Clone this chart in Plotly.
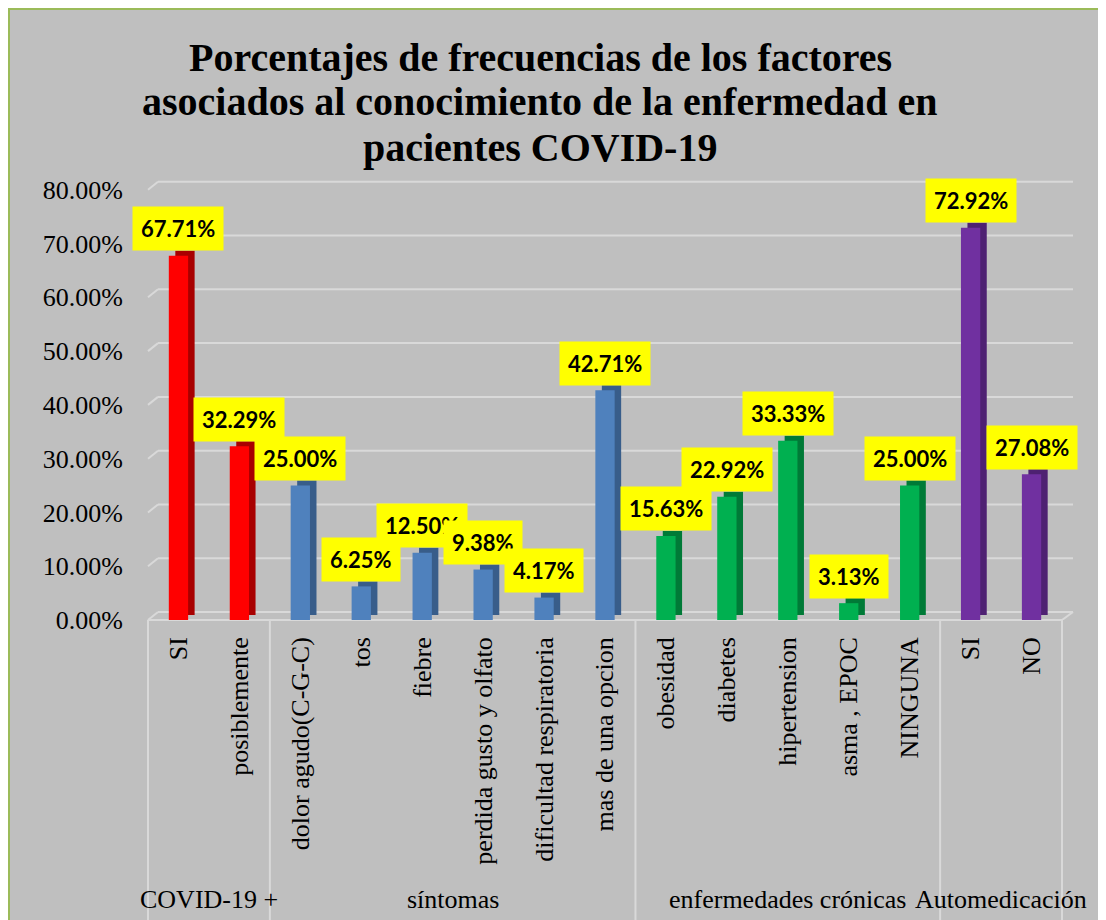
import plotly.graph_objects as go

# ---------------- data ----------------
groups = ["COVID-19 +", "COVID-19 +",
          "síntomas", "síntomas", "síntomas", "síntomas", "síntomas", "síntomas",
          "enfermedades crónicas", "enfermedades crónicas", "enfermedades crónicas",
          "enfermedades crónicas", "enfermedades crónicas",
          "Automedicación", "Automedicación"]
items = ["SI", "posiblemente",
         "dolor agudo(C-G-C)", "tos", "fiebre", "perdida gusto y olfato",
         "dificultad respiratoria", "mas de una opcion",
         "obesidad", "diabetes", "hipertension", "asma , EPOC", "NINGUNA",
         "SI", "NO"]
values = [67.71, 32.29, 25.00, 6.25, 12.50, 9.38, 4.17, 42.71,
          15.63, 22.92, 33.33, 3.13, 25.00, 72.92, 27.08]
labels = ["67.71%", "32.29%", "25.00%", "6.25%", "12.50%", "9.38%", "4.17%", "42.71%",
          "15.63%", "22.92%", "33.33%", "3.13%", "25.00%", "72.92%", "27.08%"]
y_ticks = [0, 10, 20, 30, 40, 50, 60, 70, 80]
y_ticktext = ["0.00%", "10.00%", "20.00%", "30.00%", "40.00%",
              "50.00%", "60.00%", "70.00%", "80.00%"]
title_lines = ["Porcentajes de frecuencias de los factores",
               "asociados al conocimiento de la enfermedad en",
               "pacientes COVID-19"]

front_colors = {"COVID-19 +": "#FF0000", "síntomas": "#4F81BD",
                "enfermedades crónicas": "#00B050", "Automedicación": "#7030A0"}
side_colors = {"COVID-19 +": "#A80000", "síntomas": "#385D8A",
               "enfermedades crónicas": "#007A37", "Automedicación": "#4E2172"}

# ---------------- layout geometry (page has an 8px body margin) ----------------
OFF = 8
W, H = 1106 - OFF, 920 - OFF
L = 148 - OFF            # plot left edge (page px 148)
R = 1106 - 1062          # plot right edge at page px 1062
T = 179 - OFF            # plot top at page px 179
B = 920 - 620            # floor at page px 620
PW = W - L - R
PH = H - T - B
YMAX = 82.0
n = len(items)
idx = list(range(n))


def xp(px):
    """page pixel x -> paper x"""
    return (px - OFF - L) / PW


def yp(py):
    """page pixel y -> paper y"""
    return (H - B - (py - OFF)) / PH


unit_px = PW / n
bar_w = 19.3 / unit_px
depth_dx = 6.5 / unit_px
depth_dy = 5 * YMAX / PH

fig = go.Figure()

# 3D side / top (dark) part
fig.add_trace(go.Bar(
    x=idx, y=values, base=depth_dy, width=bar_w, offset=-bar_w / 2 + depth_dx,
    marker=dict(color=[side_colors[g] for g in groups], line=dict(width=0)),
    hoverinfo="skip", showlegend=False))
# front face
fig.add_trace(go.Bar(
    x=idx, y=values, width=bar_w, offset=-bar_w / 2,
    marker=dict(color=[front_colors[g] for g in groups], line=dict(width=0)),
    hoverinfo="skip", showlegend=False))

shapes = []
# chart area background with green border
shapes.append(dict(type="rect", xref="paper", yref="paper", layer="below",
                   x0=xp(9), x1=xp(1104), y0=yp(960), y1=yp(9),
                   fillcolor="#BFBFBF", line=dict(color="#9BBB59", width=2)))
grid_col = "#D9D9D9"
# back-wall gridlines + side-wall diagonals
for t in y_ticks:
    shapes.append(dict(type="line", xref="paper", yref="y", layer="below",
                       ysizemode="pixel", yanchor=t, y0=8, y1=8,
                       x0=xp(158), x1=xp(1073),
                       line=dict(color=grid_col, width=2)))
    shapes.append(dict(type="line", xref="paper", yref="y", layer="below",
                       xsizemode="pixel", xanchor=0, x0=0, x1=10,
                       ysizemode="pixel", yanchor=t, y0=0, y1=8,
                       line=dict(color=grid_col, width=2)))
# floor front edge and right diagonal
shapes.append(dict(type="line", xref="paper", yref="paper", layer="below",
                   x0=0, x1=1, y0=0, y1=0, line=dict(color=grid_col, width=2)))
shapes.append(dict(type="line", xref="paper", yref="y", layer="below",
                   xsizemode="pixel", xanchor=1, x0=0, x1=11,
                   ysizemode="pixel", yanchor=0, y0=0, y1=8,
                   line=dict(color=grid_col, width=2)))
# group dividers
bounds = [0]
for i in range(1, n):
    if groups[i] != groups[i - 1]:
        bounds.append(i)
bounds.append(n)
for b in bounds:
    shapes.append(dict(type="line", xref="paper", yref="paper", layer="below",
                       x0=b / n, x1=b / n, y0=0, y1=yp(940),
                       line=dict(color=grid_col, width=2)))

annotations = []
# title
for k, line in enumerate(title_lines):
    annotations.append(dict(text=line, xref="paper", yref="paper",
                            x=xp(540), y=yp(57 + 45 * k), xanchor="center", yanchor="middle",
                            showarrow=False,
                            font=dict(family="Liberation Serif", size=40, color="black", weight="bold")))
# group labels
for s, e in zip(bounds[:-1], bounds[1:]):
    annotations.append(dict(text=groups[s], xref="x", yref="paper",
                            x=(s + e - 1) / 2, y=yp(899), xanchor="center", yanchor="middle",
                            showarrow=False,
                            font=dict(family="Liberation Serif", size=26, color="black")))
# data labels
for i, (v, lab) in enumerate(zip(values, labels)):
    annotations.append(dict(text=lab, x=i, y=v, xref="x", yref="y",
                            yshift=27, xanchor="center", yanchor="middle",
                            showarrow=False, bgcolor="#FFFF00", borderpad=8,
                            font=dict(family="Lato", size=22, color="black", weight="bold")))

fig.update_layout(
    width=W, height=H,
    margin=dict(l=L, r=R, t=T, b=B, autoexpand=False),
    paper_bgcolor="white", plot_bgcolor="rgba(0,0,0,0)",
    barmode="overlay", showlegend=False,
    shapes=shapes, annotations=annotations,
    xaxis=dict(range=[-0.5, n - 0.5], tickmode="array", tickvals=idx, ticktext=items,
               tickangle=-90, ticks="", showgrid=False, zeroline=False, showline=False,
               ticklabelstandoff=11,
               tickfont=dict(family="Liberation Serif", size=26, color="black")),
    yaxis=dict(range=[0, YMAX], tickmode="array", tickvals=y_ticks, ticktext=y_ticktext,
               ticks="", showgrid=False, zeroline=False, showline=False,
               ticklabelstandoff=24,
               tickfont=dict(family="Liberation Serif", size=26, color="black")),
)

fig.write_html("out.html")
